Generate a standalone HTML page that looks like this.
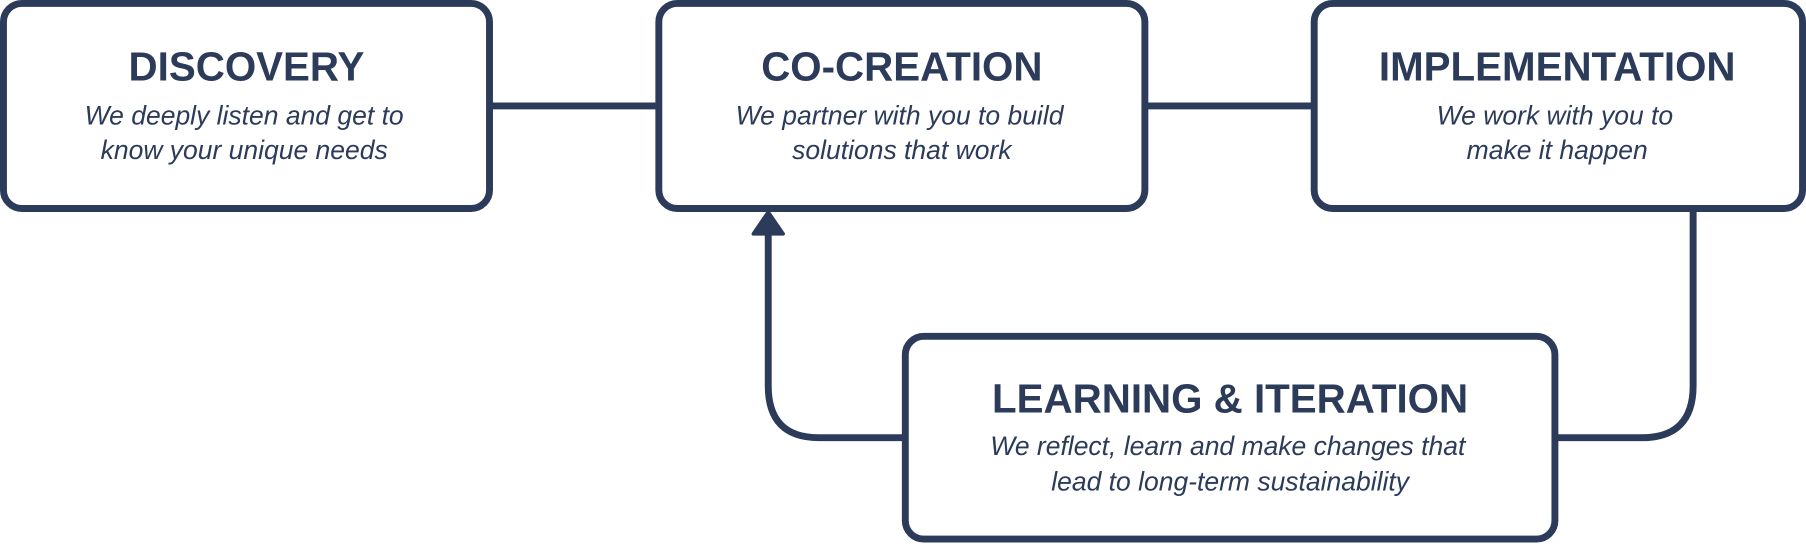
<!DOCTYPE html>
<html><head><style>
html,body{margin:0;padding:0;background:#fff;}
svg{display:block;}
.t{font-family:"Liberation Sans",sans-serif;font-weight:bold;font-size:35px;fill:#2c3b5a;text-anchor:middle;}
.s{font-family:"Liberation Sans",sans-serif;font-style:italic;font-size:23px;fill:#2c3b5a;text-anchor:middle;}
</style></head><body>
<svg width="1806" height="546" viewBox="0 0 1568 474" preserveAspectRatio="none">
<g fill="none" stroke="#2c3b5a" stroke-width="6">
<rect x="3" y="3" width="422" height="178" rx="16"/>
<rect x="572" y="3" width="422" height="178" rx="16"/>
<rect x="1141" y="3" width="424" height="178" rx="16"/>
<rect x="786" y="292" width="564" height="176" rx="16"/>
<line x1="425" y1="92" x2="572" y2="92"/>
<line x1="994" y1="92" x2="1141" y2="92"/>
<path d="M1470 181 V335 Q1470 380 1425 380 H1350"/>
<path d="M786 380 H711 Q667 380 667 335 V200"/>
</g>
<path d="M667 184 L680 203 L654 203 Z" fill="#2c3b5a" stroke="#2c3b5a" stroke-width="3" stroke-linejoin="round"/>
<text class="t" x="214" y="70">DISCOVERY</text>
<text class="s" x="212" y="108">We deeply listen and get to</text>
<text class="s" x="212" y="138">know your unique needs</text>
<text class="t" x="783" y="70">CO-CREATION</text>
<text class="s" x="781" y="108">We partner with you to build</text>
<text class="s" x="783" y="138">solutions that work</text>
<text class="t" x="1352" y="70">IMPLEMENTATION</text>
<text class="s" x="1350" y="108">We work with you to</text>
<text class="s" x="1352" y="138">make it happen</text>
<text class="t" x="1068" y="358">LEARNING &amp; ITERATION</text>
<text class="s" x="1066" y="395">We reflect, learn and make changes that</text>
<text class="s" x="1068" y="426">lead to long-term sustainability</text>
</svg>
</body></html>
